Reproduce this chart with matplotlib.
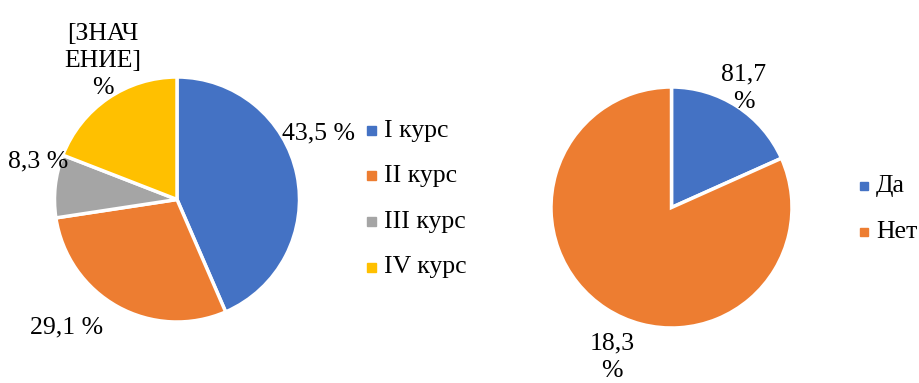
import matplotlib.pyplot as plt
from matplotlib.patches import Rectangle

plt.rcParams['font.family'] = ['Liberation Serif', 'DejaVu Serif']

# курс обучения
courses = ['I курс', 'II курс', 'III курс', 'IV курс']
course_share = [43.5, 29.1, 8.3, 19.1]
course_labels = ['43,5 %', '29,1 %', '8,3 %', '[ЗНАЧ\nЕНИЕ]\n%']
course_colors = ['#4472C4', '#ED7D31', '#A5A5A5', '#FFC000']

# ответ да / нет
answers = ['Да', 'Нет']
answer_share = [18.3, 81.7]
answer_colors = ['#4472C4', '#ED7D31']

W, H = 920, 383
fig = plt.figure(figsize=(W / 100, H / 100), dpi=100)
ax = fig.add_axes([0, 0, 1, 1])

fs = 18.5
wedge = dict(edgecolor='white', linewidth=2.5)

ax.pie(course_share, colors=course_colors, startangle=90, counterclock=False,
       center=(177, H - 199.5), radius=122.5, wedgeprops=wedge, frame=True)
ax.pie(answer_share, colors=answer_colors, startangle=90, counterclock=False,
       center=(671.5, H - 207.5), radius=120.5, wedgeprops=wedge, frame=True)
ax.set_xlim(0, W)
ax.set_ylim(0, H)
ax.axis('off')

# подписи долей
course_pos = [(319, 133), (67, 327), (38, 161), (103, 61)]
for txt, (x, y) in zip(course_labels, course_pos):
    ax.text(x, H - y, txt, ha='center', va='center', fontsize=fs, linespacing=1.3)

# подписи второй диаграммы стоят у соседнего сектора
answer_pos = [(612, 357), (744, 88)]
for v, (x, y) in zip(answer_share, answer_pos):
    txt = f'{v:.1f}'.replace('.', ',') + '\n%'
    ax.text(x, H - y, txt, ha='center', va='center', fontsize=fs, linespacing=1.3)

# легенды
def legend(names, colors, x, ys, sq=9):
    for name, c, y in zip(names, colors, ys):
        ax.add_patch(Rectangle((x - sq / 2, H - y - sq / 2), sq, sq, color=c))
        ax.text(x + 12, H - y, name, ha='left', va='center', fontsize=fs)

legend(courses, course_colors, 372, [131, 176, 222, 267])
legend(answers, answer_colors, 864, [186, 232], sq=8)

fig.savefig('out.png', dpi=100)
